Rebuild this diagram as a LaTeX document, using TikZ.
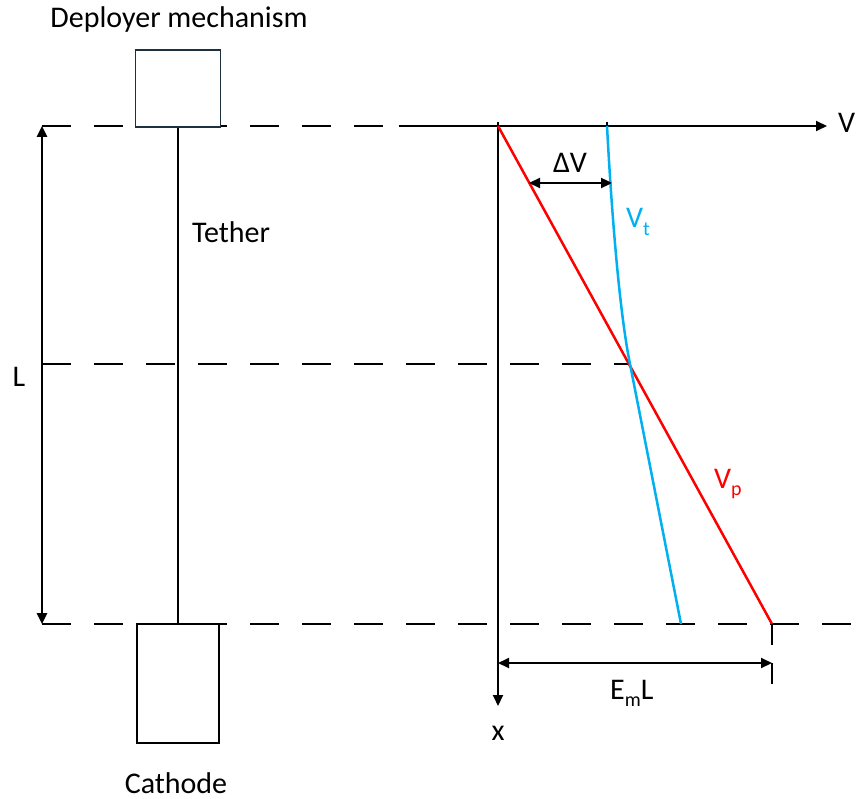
\documentclass[tikz,border=0pt]{standalone}
\usepackage{fontspec}
\setmainfont{Carlito}
\usetikzlibrary{arrows.meta}
\definecolor{boxdark}{HTML}{1B3040}
\definecolor{vtblue}{HTML}{00B0F0}
\definecolor{vpred}{HTML}{FF0000}
\newcommand{\lowsub}[1]{\raisebox{-0.26em}{\fontsize{20}{21}\selectfont #1}}
\begin{document}
\begin{tikzpicture}[x=1pt,y=-1pt,
  lbl/.style={font=\fontsize{30}{35}\selectfont, inner sep=0pt},
  dashline/.style={line width=1.3pt, dash pattern=on 29pt off 23pt},
  axis/.style={line width=1.9pt},
  tip/.style={-{Triangle[length=11pt,width=10pt]}},
  tips/.style={{Triangle[length=11pt,width=10pt]}-{Triangle[length=11pt,width=10pt]}},
  box/.style={draw, fill=white, inner sep=0pt}]
\useasboundingbox (0,0) rectangle (866,799);

% coordinates
\coordinate (dl1s) at (42,126);
\coordinate (dl1e) at (390,126);
\coordinate (dl2s) at (42,364);
\coordinate (dl2e) at (630,364);
\coordinate (dl3s) at (42,624);
\coordinate (dl3e) at (866,624);
\coordinate (O) at (498,126);
\coordinate (Vax0) at (399,126);
\coordinate (Vax1) at (827,126);
\coordinate (Xax1) at (498,706);
\coordinate (Vpend) at (772,624);
\coordinate (Vt0) at (607,126);
\coordinate (Vtmid) at (630,364);
\coordinate (Vtend) at (681,624);

% dashed lines
\draw[dashline] (dl1s) -- (dl1e);
\draw[dashline] (dl2s) -- (dl2e);
\draw[dashline] (dl3s) -- (dl3e);

% tether
\node[box, draw=boxdark, line width=1.8pt, minimum width=85pt, minimum height=77pt] (dep) at (178,88.5) {};
\node[box, line width=1.6pt, minimum width=82pt, minimum height=119pt] (cat) at (178,683.5) {};
\draw[line width=2.4pt] (dep.south) -- (cat.north);

% L arrow
\coordinate (Ltop) at (42,126);
\coordinate (Lbot) at (42,624);
\draw[line width=2.6pt, tips] (Ltop) -- (Lbot);

% axes
\draw[axis, tip] (Vax0) -- (Vax1);
\draw[axis, tip] (O) -- (Xax1);
\draw[line width=1.2pt] (498,122) -- (O);
\draw[line width=1.2pt] (607,122) -- (Vt0);

% curves
\draw[vpred, line width=2.5pt] (O) -- (Vpend);
\draw[vtblue, line width=2.5pt] (Vt0) .. controls (612,220) and (620,315) .. (Vtmid) -- (Vtend);

% Delta V arrow
\coordinate (dv0) at (529,183);
\coordinate (dv1) at (612,183);
\draw[line width=2.3pt, tips] (dv0) -- (dv1);

% EmL arrow and ticks
\coordinate (em0) at (498,663);
\coordinate (em1) at (772,663);
\draw[line width=1.9pt, tips] (em0) -- (em1);
\coordinate (t1a) at (772,624);
\coordinate (t1b) at (772,645);
\coordinate (t2a) at (772,663);
\coordinate (t2b) at (772,684);
\draw[line width=1.2pt] (t1a) -- (t1b);
\draw[line width=1.2pt] (t2a) -- (t2b);

% labels
\node[lbl, anchor=base] (tdep) at (179,28) {Deployer mechanism};
\node[lbl, anchor=base west] (tteth) at (192,243) {Tether};
\node[lbl, anchor=base] (tcat) at (176,793) {Cathode};
\node[lbl, anchor=base] (tL) at (19,386) {L};
\node[lbl, anchor=base] (tx) at (498,740) {x};
\node[lbl, anchor=base west] (tV) at (838,133) {V};
\node[lbl, anchor=base] (tdv) at (570,173) {ΔV};
\node[lbl, anchor=base west, text=vtblue] (tvt) at (626,228) {V\lowsub{t}};
\node[lbl, anchor=base west, text=vpred] (tvp) at (714,488) {V\lowsub{p}};
\node[lbl, anchor=base west] (tem) at (610,699) {E\lowsub{m}L};
\end{tikzpicture}
\end{document}
